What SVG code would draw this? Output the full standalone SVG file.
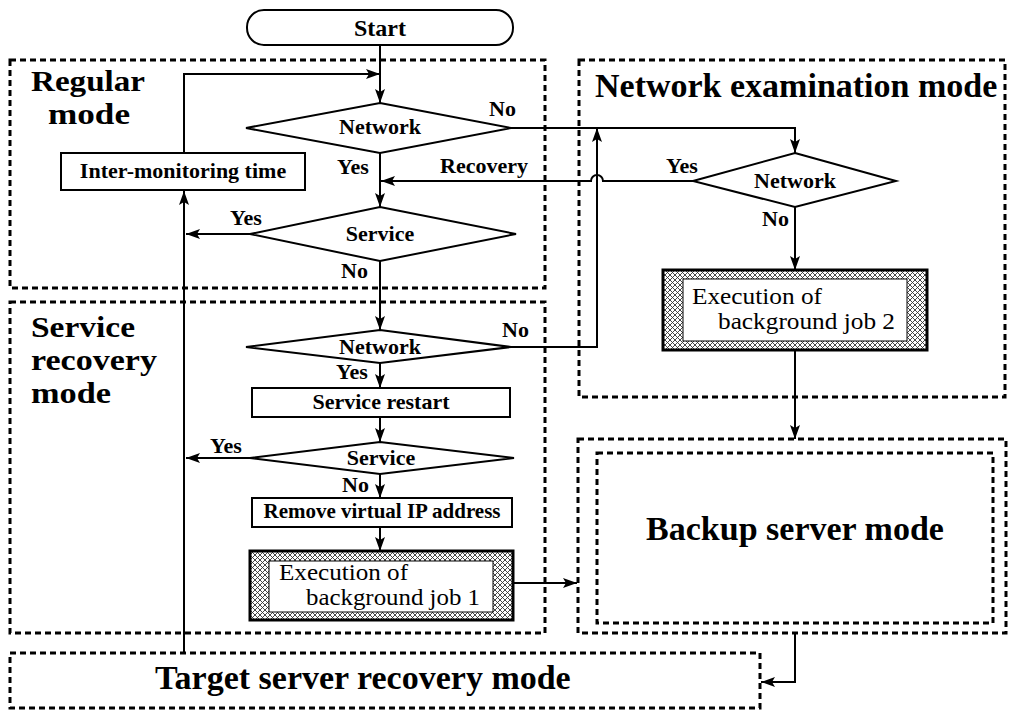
<svg xmlns="http://www.w3.org/2000/svg" width="1011" height="711" viewBox="0 0 1011 711">
<style>
.mode{fill:none;stroke:#000;stroke-width:3;stroke-dasharray:6 4}
.node{fill:#fff;stroke:#000;stroke-width:2}
.hatch{fill:url(#hp);stroke:#000;stroke-width:3}
.inner{fill:#fff;stroke:#000;stroke-width:1}
.lbl{font-family:"Liberation Serif",serif;font-weight:bold;font-size:22px;fill:#000}
.c{text-anchor:middle}
.big{font-family:"Liberation Serif",serif;font-weight:bold;font-size:33px;fill:#000}
.ml{font-family:"Liberation Serif",serif;font-weight:bold;font-size:29px;fill:#000}
.reg{font-family:"Liberation Serif",serif;font-size:22.5px;fill:#000}
.conn path{fill:none;stroke:#000;stroke-width:2}
.arr{marker-end:url(#ah)}
</style>
<defs>
<pattern id="hp" patternUnits="userSpaceOnUse" width="5" height="5">
<rect width="5" height="5" fill="#fff"/>
<path d="M0,0L5,5M5,0L0,5" stroke="#333" stroke-width="0.9"/>
</pattern>
<marker id="ah" viewBox="0 0 14 10" refX="14" refY="5" markerWidth="14" markerHeight="10" markerUnits="userSpaceOnUse" orient="auto">
<path d="M0,0L14,5L0,10L3,5z" fill="#000"/>
</marker>
</defs>
<rect width="1011" height="711" fill="#fff"/>

<g id="mode-regular">
<rect class="mode" x="10" y="60" width="535" height="228"/>
<text class="ml" x="31" y="91" textLength="114" lengthAdjust="spacingAndGlyphs">Regular</text>
<text class="ml" x="48" y="124" textLength="82" lengthAdjust="spacingAndGlyphs">mode</text>
</g>
<g id="mode-service-recovery">
<rect class="mode" x="10" y="302" width="535" height="331"/>
<text class="ml" x="31" y="337" textLength="104" lengthAdjust="spacingAndGlyphs">Service</text>
<text class="ml" x="31" y="370" textLength="126" lengthAdjust="spacingAndGlyphs">recovery</text>
<text class="ml" x="31" y="403" textLength="80" lengthAdjust="spacingAndGlyphs">mode</text>
</g>
<g id="mode-network-exam">
<rect class="mode" x="579" y="60" width="426" height="337"/>
<text class="big" x="595" y="97" style="font-size:34px">Network examination mode</text>
</g>
<g id="mode-backup">
<rect class="mode" x="578" y="439" width="428" height="194"/>
<rect class="mode" x="597" y="453" width="396" height="170"/>
<text class="big c" x="795" y="540" style="font-size:34px">Backup server mode</text>
</g>
<g id="mode-target">
<rect class="mode" x="10" y="653" width="750" height="55"/>
<text class="big" x="155" y="689" style="font-size:34px">Target server recovery mode</text>
</g>

<g class="conn" id="connectors">
<path class="arr" d="M380,45V103"/>
<path class="arr" d="M184,153V74H380"/>
<path class="arr" d="M511,128H795V153"/>
<path class="arr" d="M380,153V207"/>
<path class="arr" d="M693,181H603A6,6 0 0 0 591,181H381"/>
<path class="arr" d="M250,234H186"/>
<path class="arr" d="M380,261V330"/>
<path class="arr" d="M511,347H597V128"/>
<path class="arr" d="M380,363V388"/>
<path class="arr" d="M380,417V442"/>
<path class="arr" d="M250,458H186"/>
<path class="arr" d="M380,474V498"/>
<path class="arr" d="M380,527V551"/>
<path class="arr" d="M513,583H577"/>
<path class="arr" d="M184,653V191"/>
<path class="arr" d="M795,207V270"/>
<path class="arr" d="M795,350V439"/>
<path class="arr" d="M795,633V682H761"/>
<text class="lbl" x="489" y="116">No</text>
<text class="lbl" x="337" y="174">Yes</text>
<text class="lbl" x="440" y="173">Recovery</text>
<text class="lbl" x="666" y="173">Yes</text>
<text class="lbl" x="762" y="226">No</text>
<text class="lbl" x="230" y="225">Yes</text>
<text class="lbl" x="341" y="278">No</text>
<text class="lbl" x="502" y="337">No</text>
<text class="lbl" x="336" y="379">Yes</text>
<text class="lbl" x="210" y="453">Yes</text>
<text class="lbl" x="342" y="492">No</text>
</g>

<g id="start">
<rect class="node" x="247" y="10" width="266" height="35" rx="17"/>
<text class="lbl c" x="380" y="36" style="font-size:24px">Start</text>
</g>
<g id="network1">
<polygon class="node" points="380,103 511,128 380,153 246,128"/>
<text class="lbl c" x="380" y="134">Network</text>
</g>
<g id="inter-monitoring">
<rect class="node" x="61" y="153" width="244" height="37"/>
<text class="lbl c" x="183" y="178">Inter-monitoring time</text>
</g>
<g id="service1">
<polygon class="node" points="380,207 516,234 380,261 250,234"/>
<text class="lbl c" x="380" y="241">Service</text>
</g>
<g id="network3">
<polygon class="node" points="380,330 511,347 380,363 246,347"/>
<text class="lbl c" x="380" y="354">Network</text>
</g>
<g id="service-restart">
<rect class="node" x="252" y="388" width="258" height="29"/>
<text class="lbl c" x="381" y="409">Service restart</text>
</g>
<g id="service2">
<polygon class="node" points="380,442 514,458 380,474 250,458"/>
<text class="lbl c" x="381" y="465">Service</text>
</g>
<g id="remove-vip">
<rect class="node" x="252" y="498" width="260" height="29"/>
<text class="lbl c" x="382" y="518" style="font-size:21px">Remove virtual IP address</text>
</g>
<g id="job1">
<rect class="hatch" x="250" y="551" width="263" height="69"/>
<rect class="inner" x="269" y="561" width="224" height="51"/>
<text class="reg" x="279" y="580" textLength="129" lengthAdjust="spacingAndGlyphs">Execution of</text>
<text class="reg" x="306" y="605" textLength="174" lengthAdjust="spacingAndGlyphs">background job 1</text>
</g>
<g id="network2">
<polygon class="node" points="795,153 896,181 795,207 693,181"/>
<text class="lbl c" x="795" y="188">Network</text>
</g>
<g id="job2">
<rect class="hatch" x="663" y="270" width="264" height="80"/>
<rect class="inner" x="683" y="279" width="224" height="62"/>
<text class="reg" x="692" y="304" textLength="130" lengthAdjust="spacingAndGlyphs">Execution of</text>
<text class="reg" x="718" y="329" textLength="177" lengthAdjust="spacingAndGlyphs">background job 2</text>
</g>
</svg>
